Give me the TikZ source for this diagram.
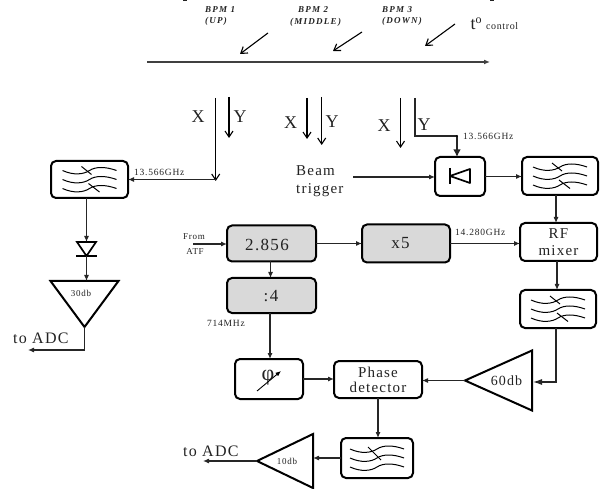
\documentclass[tikz,border=0pt]{standalone}
\usepackage{fontspec}
\setmainfont[LetterSpace=8]{Liberation Serif}
\newfontfamily\plainserif{Liberation Serif}
\newfontfamily\bpmfont[LetterSpace=14]{Liberation Serif}
\usetikzlibrary{arrows.meta,shapes.geometric}
\definecolor{boxgray}{HTML}{D9D9D9}
\definecolor{ink}{HTML}{222222}
\tikzset{
  blk/.style={draw=black,line width=2pt,rounded corners=5pt,inner sep=0pt,outer sep=0pt,text=ink,align=center,font=\fontsize{15}{17}\selectfont},
  grayblk/.style={blk,fill=boxgray},
  wire/.style={line width=1.1pt,draw=black!85,-{Latex[length=6pt,width=5pt]}},
  bigwire/.style={line width=1.2pt,draw=black!85,-{Latex[length=7.5pt,width=7.5pt]}},
  barb/.style={line width=1.1pt,draw=black,-{Straight Barb[length=6pt,width=8pt]}},
  amp/.style={isosceles triangle,isosceles triangle stretches,draw=black,line width=2pt,inner sep=0pt,outer sep=0pt,text=ink},
  bpmlabel/.style={font=\bpmfont\fontsize{9}{10}\selectfont\bfseries\itshape,text=ink,inner sep=0pt,anchor=west},
  axis/.style={font=\plainserif\fontsize{18}{20}\selectfont,text=ink,inner sep=0pt},
  big/.style={font=\fontsize{16}{18}\selectfont,text=ink,inner sep=0pt},
  small/.style={font=\fontsize{9.5}{11}\selectfont,text=ink,inner sep=0pt},
  filt/.pic={
    \foreach \d in {-9,0,9}{
      \draw[line width=1pt] (-27,\d) .. controls (-16,\d+5) and (-6,\d+4) .. (0,\d) .. controls (6,\d-4) and (16,\d-4) .. (27,\d);
    }
    \draw[line width=1pt] (-8,-13) -- (2,-5);
    \draw[line width=1pt] (-1,4) -- (10,12.5);
  },
  filtb/.pic={
    \foreach \d in {-9,0,9}{
      \draw[line width=1pt] (-27,\d) .. controls (-16,\d+5) and (-6,\d+4) .. (0,\d) .. controls (6,\d-4) and (16,\d-4) .. (27,\d);
    }
    \draw[line width=1pt] (-9,-11) -- (4,2);
  }
}
\begin{document}
\begin{tikzpicture}[x=1pt,y=-1pt]
\useasboundingbox (0,0) rectangle (600,489);
% clipped remains of a title line
\fill[ink] (183,0) rectangle (187,1.2);
\fill[ink] (490,0) rectangle (494,1);
% beam pipe
\coordinate (pipeL) at (147,62);
\coordinate (pipeR) at (490,62);
\draw[line width=1.2pt,draw=black!75,-{Latex[length=6pt,width=5pt]}] (pipeL) -- (pipeR);
% BPM labels and arrows
\node[bpmlabel] (bpmA) at (205,10) {BPM 1};
\node[bpmlabel] (bpmAb) at (205,21) {(UP)};
\node[bpmlabel] (bpmB) at (298,10) {BPM 2};
\node[bpmlabel] (bpmBb) at (290,22) {(MIDDLE)};
\node[bpmlabel] (bpmC) at (382,10) {BPM 3};
\node[bpmlabel] (bpmCb) at (382,21.5) {(DOWN)};
\coordinate (a1s) at (268,33); \coordinate (a1e) at (240,54);
\coordinate (a2s) at (362,32); \coordinate (a2e) at (333,51);
\coordinate (a3s) at (455,24); \coordinate (a3e) at (425,46);
\draw[barb] (a1s) -- (a1e);
\draw[barb] (a2s) -- (a2e);
\draw[barb] (a3s) -- (a3e);
\node[anchor=west,inner sep=0pt,text=ink] (tc) at (470.5,24) {\plainserif\fontsize{18}{19}\selectfont t\raisebox{6pt}{\fontsize{12}{12}\selectfont o}\ \fontsize{10}{12}\selectfont\addfontfeature{LetterSpace=6}control};
% X / Y group 1
\node[axis] (x1) at (198,117) {X};
\node[axis] (y1) at (240,117) {Y};
\coordinate (x1s) at (215.7,98); \coordinate (x1e) at (215.7,181);
\coordinate (y1s) at (229,97); \coordinate (y1e) at (229,138);
\draw[barb] (x1s) -- (x1e);
\draw[barb] (y1s) -- (y1e);
% X / Y group 2
\node[axis] (x2) at (290.5,122.5) {X};
\node[axis] (y2) at (332,122) {Y};
\coordinate (x2s) at (307,98); \coordinate (x2e) at (307,139);
\coordinate (y2s) at (321.7,97); \coordinate (y2e) at (321.7,145);
\draw[barb] (x2s) -- (x2e);
\draw[barb] (y2s) -- (y2e);
% X / Y group 3
\node[axis] (x3) at (384,126) {X};
\node[axis] (y3) at (424,125) {Y};
\coordinate (x3s) at (400.5,98); \coordinate (x3e) at (400.5,148);
\coordinate (y3s) at (415,98); \coordinate (y3k) at (457,136);
\draw[barb] (x3s) -- (x3e);
% blocks
\node[blk,minimum width=77pt,minimum height=37pt] (f1) at (89.5,179.5) {};
\pic at (f1) {filt};
\node[blk,minimum width=50pt,minimum height=39pt] (lim) at (460,176.5) {};
\node[blk,minimum width=76pt,minimum height=38pt] (f2) at (560,176) {};
\pic at (f2) {filt};
\node[grayblk,minimum width=89pt,minimum height=36pt] (src) at (271.5,243.5) {};
\node[big,font=\fontsize{17}{19}\selectfont] (srcT) at (267,245) {2.856};
\node[grayblk,minimum width=88pt,minimum height=38pt] (mul) at (406,243.5) {};
\node[big,font=\fontsize{17}{19}\selectfont] (mulT) at (400.5,243) {x5};
\node[blk,minimum width=77pt,minimum height=38pt] (rf) at (558.5,242) {RF\\[-.5pt]mixer};
\node[grayblk,minimum width=89pt,minimum height=35pt] (div) at (271.5,295.5) {};
\node[big,font=\fontsize{17}{19}\selectfont] (divT) at (271,296) {:4};
\node[blk,minimum width=76pt,minimum height=38pt] (f3) at (558,309) {};
\pic at (f3) {filt};
\node[blk,minimum width=68pt,minimum height=40pt] (ph) at (269,379) {};
\node[blk,minimum width=88pt,minimum height=37pt] (pd) at (378,379.5) {Phase\\[-2pt]detector};
\node[blk,minimum width=72pt,minimum height=40pt] (f4) at (377,458) {};
\pic at (f4) {filtb};
% limiter symbol
\coordinate (limA) at (450,176); \coordinate (limB) at (470,169); \coordinate (limC) at (470,183);
\draw[line width=1.7pt] (450,168) -- (450,184);
\draw[line width=1.7pt,line join=round] (limA) -- (limB) -- (limC) -- cycle;
% phase shifter symbol
\node[font=\plainserif\fontsize{22}{24}\selectfont,inner sep=0pt,text=ink] (phi) at (268,378) {φ};
\coordinate (phS) at (257,391); \coordinate (phE) at (281,371);
\draw[line width=.9pt,-{Latex[length=5.5pt,width=4.5pt]}] (phS) -- (phE);
% diode
\coordinate (dA) at (77,242); \coordinate (dB) at (96,242); \coordinate (dC) at (86.5,256);
\coordinate (dL) at (76,256); \coordinate (dR) at (97,256);
\draw[line width=1.7pt,line join=miter] (dA) -- (dB) -- (dC) -- cycle;
\draw[line width=1.7pt] (dL) -- (dR);
% amplifiers
\node[amp,shape border rotate=270,minimum width=68pt,minimum height=46pt,anchor=apex] (a30) at (84.5,327) {};
\node[amp,shape border rotate=180,minimum width=60pt,minimum height=67pt,anchor=apex] (a60) at (465,380.5) {};
\node[amp,shape border rotate=180,minimum width=54pt,minimum height=56pt,anchor=apex] (a10) at (257,461) {};
\node[small,font=\fontsize{9}{11}\selectfont] (g30) at (81,293) {30db};
\node[big,font=\fontsize{14}{16}\selectfont] (g60) at (506.5,381) {60db};
\node[small,font=\fontsize{9}{11}\selectfont] (g10) at (287,461) {10db};
% texts
\node[big,font=\fontsize{15}{17}\selectfont,align=left,anchor=west] (beam) at (296,181) {Beam\\[1pt]trigger};
\node[small,anchor=west] (fq1) at (134,172) {13.566GHz};
\node[small,anchor=west] (fq2) at (463,136) {13.566GHz};
\node[small,anchor=west] (fq3) at (455,232) {14.280GHz};
\node[small,anchor=west] (fq4) at (207,323) {714MHz};
\node[small,font=\fontsize{9}{11}\selectfont] (fr) at (194,237) {From};
\node[small,font=\fontsize{9}{11}\selectfont] (atf) at (195,252) {ATF};
\node[big,anchor=west] (adc1) at (13,338) {to ADC};
\node[big,anchor=west] (adc2) at (183,451) {to ADC};
% connectors
\draw[wire] (x1e |- f1.east) -- (f1.east);
\coordinate (f1d) at (86.5,198);
\draw[wire] (f1d) -- (f1d |- dA);
\draw[wire] (dC) -- (dC |- a30.left corner);
\coordinate (adc1e) at (28,350);
\draw[wire] (a30.apex) |- (adc1e);
\draw[line width=1.1pt,draw=black!85] (y3s) |- (y3k);
\draw[bigwire] (y3k) -- (y3k |- lim.north);
\fill[black] (y3k) circle (1.1pt);
\coordinate (bs) at (353,177);
\draw[wire] (bs) -- (bs -| lim.west);
\draw[wire] (lim.east) -- (lim.east -| f2.west);
\coordinate (f2d) at (556,195);
\draw[wire] (f2d) -- (f2d |- rf.north);
\coordinate (ats) at (193,244);
\draw[wire] (ats) -- (ats -| src.west);
\draw[wire] (src.east) -- (src.east -| mul.west);
\draw[wire] (mul.east) -- (mul.east -| rf.west);
\coordinate (sd) at (270.5,261.5);
\draw[wire] (sd) -- (sd |- div.north);
\coordinate (dd) at (270,313);
\draw[wire] (dd) -- (dd |- ph.north);
\draw[wire] (ph.east) -- (ph.east -| pd.west);
\draw[wire] (a60.apex) -- (a60.apex -| pd.east);
\coordinate (rd) at (557,261);
\draw[wire] (rd) -- (rd |- f3.north);
\coordinate (f3d) at (556,328);
\coordinate (a60in) at (533,382);
\draw[line width=1.1pt,draw=black!85,-{Latex[length=9pt,width=6pt]}] (f3d) |- (a60in);
\draw[wire] (pd.south) -- (pd.south |- f4.north);
\draw[wire] (f4.west) -- (f4.west -| a10.left corner);
\coordinate (adc2e) at (203,461);
\draw[wire] (a10.apex) -- (adc2e);
\end{tikzpicture}
\end{document}
